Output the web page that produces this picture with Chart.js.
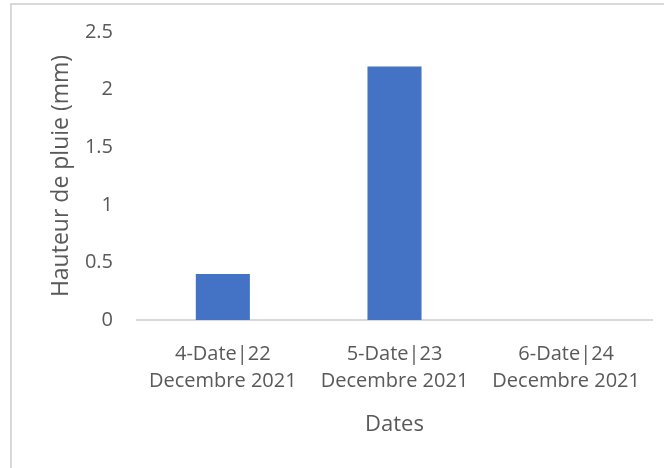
<!DOCTYPE html>
<html>
<head>
<meta charset="utf-8">
<script src="https://cdn.jsdelivr.net/npm/chart.js@4"></script>
<style>
  html, body { margin: 0; padding: 0; background: #fff; overflow: hidden; }
  #wrap { position: relative; width: 664px; height: 468px; }
  #frame {
    position: absolute; left: 10px; top: 3px; width: 700px; height: 500px;
    border-top: 2px solid #d9d9d9; border-left: 2px solid #d9d9d9;
    pointer-events: none;
  }
  canvas { position: absolute; left: 0; top: 0; }
</style>
</head>
<body>
<div id="wrap">
  <canvas id="rainChart" width="664" height="468"></canvas>
  <div id="frame"></div>
</div>
<script>
// Rainfall per day
const dateLabels = [
    ['4-Date|22', 'Decembre 2021'],
    ['5-Date|23', 'Decembre 2021'],
    ['6-Date|24', 'Decembre 2021']
];
const rainValues = [0.4, 2.2, 0];
const yTickLabels = ['0', '0.5', '1', '1.5', '2', '2.5'];

const textColor = '#595959';
const tickFont = { family: 'Open Sans', size: 20, lineHeight: 1.35 };
const titleFont = { family: 'Open Sans', size: 22, lineHeight: 1.2 };

const ctx = document.getElementById('rainChart');

new Chart(ctx, {
    type: 'bar',
    data: {
        labels: dateLabels,
        datasets: [{
            label: 'Hauteur de pluie (mm)',
            data: rainValues,
            backgroundColor: '#4472c4',
            borderWidth: 0,
            categoryPercentage: 1,
            barPercentage: 0.315
        }]
    },
    options: {
        responsive: false,
        animation: false,
        layout: {
            padding: { left: 40, right: 12, top: 32, bottom: 20 }
        },
        plugins: {
            legend: { display: false },
            tooltip: { enabled: false }
        },
        scales: {
            x: {
                grid: { display: false, drawTicks: false },
                border: { display: true, color: '#d9d9d9', width: 2 },
                ticks: {
                    color: textColor,
                    font: tickFont,
                    padding: 21,
                    maxRotation: 0,
                    autoSkip: false
                },
                title: {
                    display: true,
                    text: 'Dates',
                    color: textColor,
                    font: titleFont,
                    padding: { top: 0, bottom: 10 }
                },
                afterFit: function(scale) {
                    scale.height = 468 - 320 - 20;
                }
            },
            y: {
                min: 0,
                max: 2.5,
                // hidden tick marks only used to push the labels off the axis
                grid: { display: false, drawTicks: true, tickLength: 20 },
                border: { display: false },
                ticks: {
                    stepSize: 0.5,
                    color: textColor,
                    font: { family: 'Open Sans', size: 20 },
                    padding: 4,
                    callback: function(value) {
                        const idx = Math.round(value / 0.5);
                        return yTickLabels[idx];
                    }
                },
                title: {
                    display: true,
                    text: 'Hauteur de pluie (mm)',
                    color: textColor,
                    font: { family: 'Open Sans', size: 23, lineHeight: 1.2 },
                    padding: { top: 8, bottom: 0 }
                },
                afterFit: function(scale) {
                    scale.width = 137 - 40;
                }
            }
        }
    }
});
</script>
</body>
</html>
